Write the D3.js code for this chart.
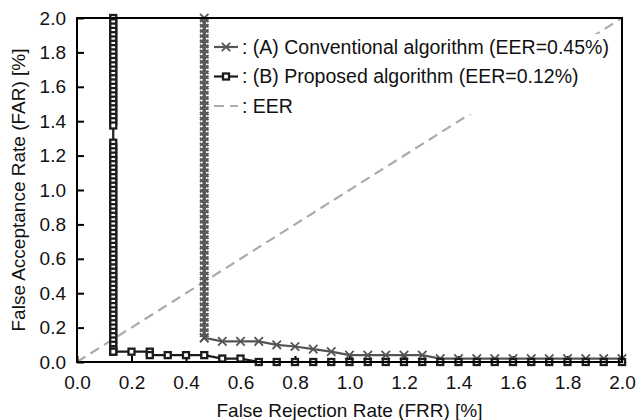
<!DOCTYPE html>
<html>
<head>
<meta charset="utf-8">
<script src="https://cdn.jsdelivr.net/npm/d3@7"></script>
<style>
  body { margin: 0; background: #fff; }
  text { font-family: "Liberation Sans", Arial, sans-serif; }
</style>
</head>
<body>
<svg width="639" height="420"></svg>
<script>
// ticks on both axes
var tickValues = [0.0, 0.2, 0.4, 0.6, 0.8, 1.0, 1.2, 1.4, 1.6, 1.8, 2.0];

// (A) conventional: vertical run of points at FRR=0.467, then the tail
var convColumnFrr = 0.467;
var convColumnFar = [2.00, 1.97, 1.94, 1.91, 1.88, 1.85, 1.82, 1.79, 1.76, 1.73, 1.70, 1.67, 1.64, 1.61, 1.58,
  1.55, 1.52, 1.49, 1.46, 1.43, 1.40, 1.37, 1.34, 1.31, 1.28, 1.25, 1.22, 1.19, 1.16, 1.13, 1.10, 1.07, 1.04,
  1.01, 0.98, 0.95, 0.92, 0.89, 0.86, 0.83, 0.80, 0.77, 0.74, 0.71, 0.68, 0.65, 0.62, 0.59, 0.56, 0.53, 0.50,
  0.47, 0.44, 0.41, 0.38, 0.35, 0.32, 0.29, 0.26, 0.23, 0.20, 0.17, 0.14];
var convTailFrr = [0.467, 0.533, 0.600, 0.667, 0.733, 0.800, 0.867, 0.933, 1.000, 1.067, 1.133, 1.200, 1.267,
  1.333, 1.400, 1.467, 1.533, 1.600, 1.667, 1.733, 1.800, 1.867, 1.933, 2.000];
var convTailFar = [0.14, 0.12, 0.12, 0.12, 0.10, 0.09, 0.075, 0.06, 0.04, 0.04, 0.04, 0.04, 0.04,
  0.02, 0.02, 0.02, 0.02, 0.02, 0.02, 0.02, 0.02, 0.02, 0.02, 0.02];

// (B) proposed: vertical run at FRR=0.133, then the tail
var propColumnFrr = 0.133;
var propColumnFar = [2.000, 1.975, 1.950, 1.925, 1.900, 1.875, 1.850, 1.825, 1.800, 1.775, 1.750, 1.725, 1.700,
  1.675, 1.650, 1.625, 1.600, 1.575, 1.550, 1.525, 1.500, 1.475, 1.450, 1.425, 1.400, 1.375,
  1.275, 1.250, 1.225, 1.200, 1.175, 1.150, 1.125, 1.100, 1.075, 1.050, 1.025, 1.000, 0.975, 0.950, 0.925,
  0.900, 0.875, 0.850, 0.825, 0.800, 0.775, 0.750, 0.725, 0.700, 0.675, 0.650, 0.625, 0.600, 0.575, 0.550,
  0.525, 0.500, 0.475, 0.450, 0.425, 0.400, 0.375, 0.350, 0.325, 0.300, 0.275, 0.250, 0.225, 0.200, 0.175,
  0.150, 0.125, 0.100, 0.075, 0.060];
var propTailFrr = [0.133, 0.200, 0.267, 0.267, 0.333, 0.400, 0.467, 0.533, 0.600, 0.667, 0.733, 0.800, 0.867,
  0.933, 1.000, 1.067, 1.133, 1.200, 1.267, 1.333, 1.400, 1.467, 1.533, 1.600, 1.667, 1.733, 1.800, 1.867,
  1.933, 2.000];
var propTailFar = [0.06, 0.06, 0.06, 0.04, 0.04, 0.04, 0.04, 0.02, 0.02, 0.0, 0.0, 0.0, 0.0,
  0.0, 0.0, 0.0, 0.0, 0.0, 0.0, 0.0, 0.0, 0.0, 0.0, 0.0, 0.0, 0.0, 0.0, 0.0, 0.0, 0.0];

var eerLine = [0, 2];

var legendLabels = [": (A) Conventional algorithm (EER=0.45%)", ": (B) Proposed algorithm (EER=0.12%)", ": EER"];

var margin = { top: 18, right: 17, bottom: 58, left: 77 },
    width = 639 - margin.left - margin.right,
    height = 420 - margin.top - margin.bottom;

var colA = "#555555", colB = "#1c1c1c", colEER = "#ababab";

var svg = d3.select("svg").append("g").attr("transform", "translate(" + margin.left + "," + margin.top + ")");

var x = d3.scaleLinear().domain([0, 2]).range([0, width]);
var y = d3.scaleLinear().domain([0, 2]).range([height, 0]);

function pairs(colX, colY, tailX, tailY) {
  var pts = colY.map(function (v) { return [colX, v]; });
  tailX.forEach(function (v, i) { pts.push([v, tailY[i]]); });
  return pts;
}
var convData = pairs(convColumnFrr, convColumnFar, convTailFrr, convTailFar);
var propData = pairs(propColumnFrr, propColumnFar, propTailFrr, propTailFar);

var line = d3.line().x(function (d) { return x(d[0]); }).y(function (d) { return y(d[1]); });

// EER diagonal
svg.append("path").datum(eerLine.map(function (v) { return [v, v]; }))
  .attr("d", line).attr("fill", "none").attr("stroke", colEER)
  .attr("stroke-width", 2.2).attr("stroke-dasharray", "10,6");

// axes, ticks pointing inward
var xAxis = svg.append("g").attr("transform", "translate(0," + height + ")")
  .call(d3.axisBottom(x).tickValues(tickValues).tickFormat(d3.format(".1f")).tickSizeInner(-6).tickSizeOuter(0).tickPadding(14));
var yAxis = svg.append("g")
  .call(d3.axisLeft(y).tickValues(tickValues).tickFormat(d3.format(".1f")).tickSizeInner(-7).tickSizeOuter(0).tickPadding(11));
[xAxis, yAxis].forEach(function (g) {
  g.select(".domain").remove();
  g.selectAll("line").attr("stroke", "#000").attr("stroke-width", 2);
  g.selectAll("text").attr("font-size", 19).attr("fill", "#111").style("font-family", "Liberation Sans, Arial, sans-serif");
});

// series A: crosses
svg.append("path").datum(convData).attr("d", line).attr("fill", "none")
  .attr("stroke", colA).attr("stroke-width", 2.2);
var cross = d3.symbol().type(d3.symbolX).size(48);
svg.append("g").selectAll("path").data(convData).enter().append("path")
  .attr("d", cross)
  .attr("transform", function (d) { return "translate(" + x(d[0]) + "," + y(d[1]) + ")"; })
  .attr("fill", "none").attr("stroke", colA).attr("stroke-width", 1.8);

// series B: hollow squares
svg.append("path").datum(propData).attr("d", line).attr("fill", "none")
  .attr("stroke", colB).attr("stroke-width", 2.2);
svg.append("g").selectAll("rect").data(propData).enter().append("rect")
  .attr("x", function (d) { return x(d[0]) - 3; })
  .attr("y", function (d) { return y(d[1]) - 3; })
  .attr("width", 6).attr("height", 6)
  .attr("fill", "#fff").attr("stroke", colB).attr("stroke-width", 2.3);

// frame
svg.append("rect").attr("width", width).attr("height", height)
  .attr("fill", "none").attr("stroke", "#000").attr("stroke-width", 2);

// legend
var leg = svg.append("g").attr("transform", "translate(" + (210 - margin.left) + "," + (34 - margin.top) + ")");
leg.append("rect").attr("width", 407).attr("height", 80).attr("fill", "#fff");
var rows = leg.selectAll(".row").data(legendLabels).enter().append("g")
  .attr("transform", function (d, i) { return "translate(0," + (13 + i * 29.5) + ")"; });
rows.append("line").attr("x1", 4).attr("x2", 28).attr("y1", 0).attr("y2", 0)
  .attr("stroke", function (d, i) { return [colA, colB, colEER][i]; })
  .attr("stroke-width", 2.2)
  .attr("stroke-dasharray", function (d, i) { return i === 2 ? "10,6" : null; });
rows.filter(function (d, i) { return i === 0; }).append("path")
  .attr("d", cross).attr("transform", "translate(16,0)")
  .attr("fill", "none").attr("stroke", colA).attr("stroke-width", 1.8);
rows.filter(function (d, i) { return i === 1; }).append("rect")
  .attr("x", 13).attr("y", -3).attr("width", 6).attr("height", 6)
  .attr("fill", "#fff").attr("stroke", colB).attr("stroke-width", 2.3);
rows.append("text").attr("x", 32).attr("dy", "0.35em").attr("font-size", 19.5).attr("fill", "#111")
  .text(function (d) { return d; });

// axis titles
svg.append("text").attr("x", width / 2).attr("y", height + 55).attr("text-anchor", "middle")
  .attr("font-size", 19).attr("fill", "#111").text("False Rejection Rate (FRR) [%]");
svg.append("text").attr("transform", "translate(" + (18 - margin.left) + "," + (height / 2) + ") rotate(-90)")
  .attr("dy", "0.35em").attr("text-anchor", "middle")
  .attr("font-size", 19).attr("fill", "#111").text("False Acceptance Rate (FAR) [%]");
</script>
</body>
</html>
